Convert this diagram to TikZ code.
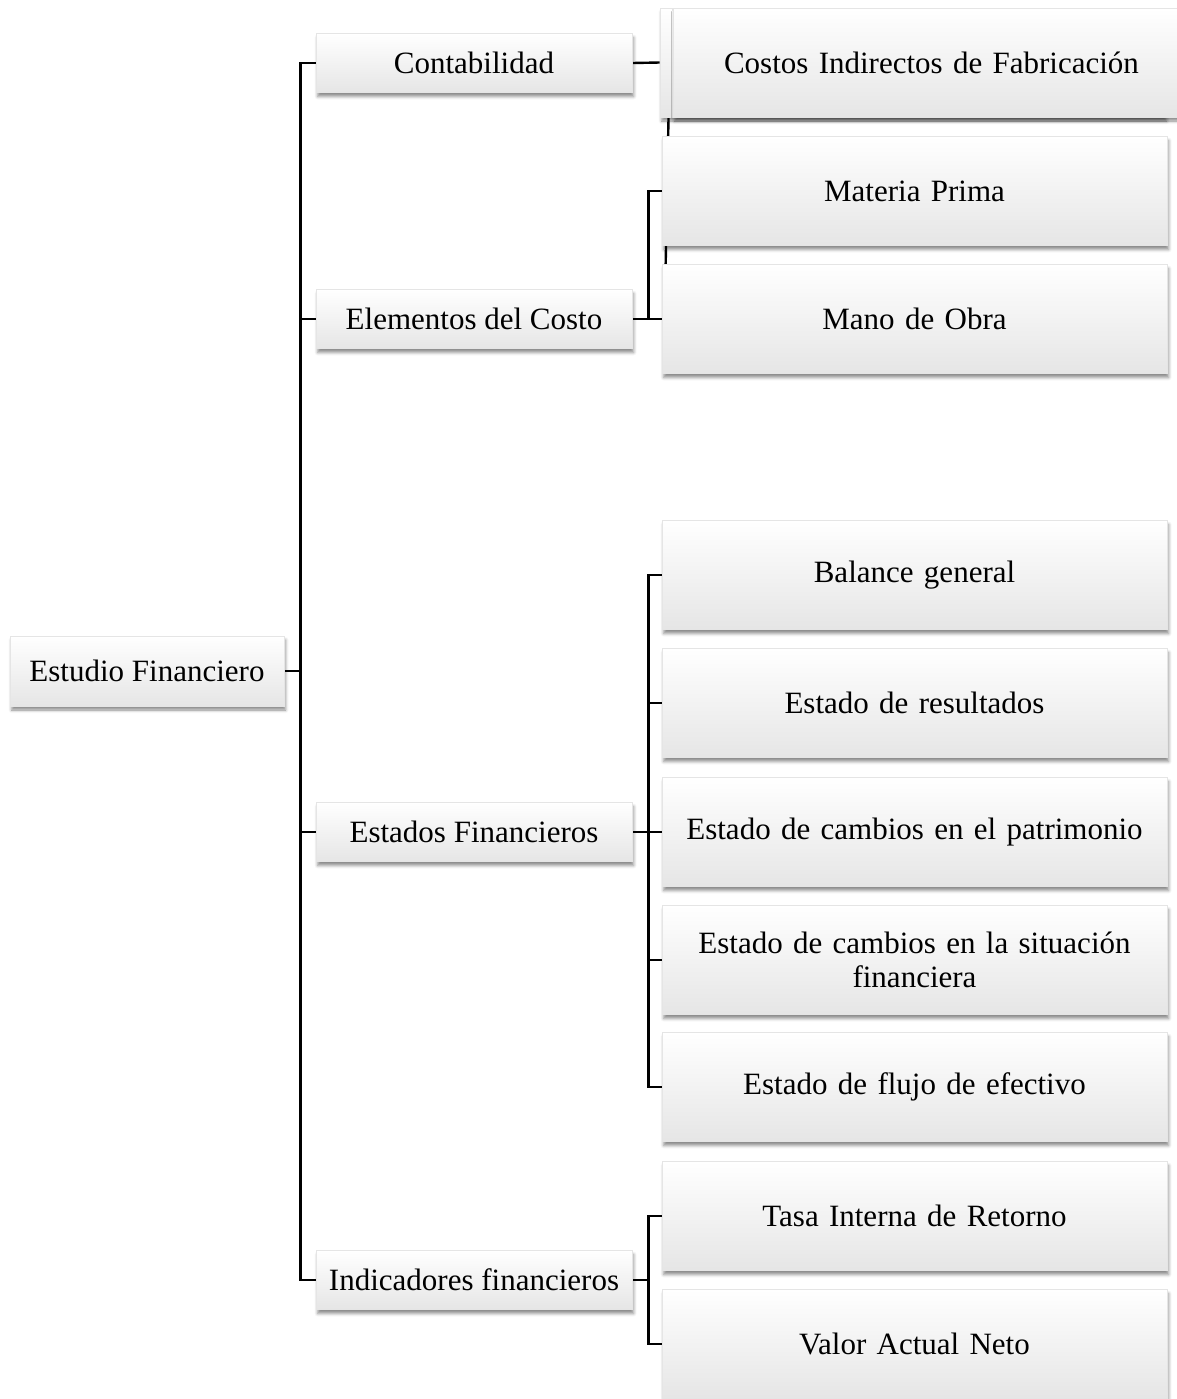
\documentclass[tikz,border=0pt]{standalone}
\usepackage{fontspec}
\setmainfont{Liberation Serif}
\usetikzlibrary{shadows.blur,backgrounds}

\begin{document}
\begin{tikzpicture}[x=0.5pt,y=-0.5pt,
    caja/.style={draw=gray!20, top color=white, bottom color=gray!20,
      blur shadow={shadow xshift=0.8pt, shadow yshift=-2pt, shadow opacity=45, shadow blur steps=4, shadow blur radius=1.5pt},
      inner sep=0pt, align=center, font=\fontsize{15.5}{17}\selectfont},
    raiz/.style={caja, minimum width=137pt, minimum height=35pt},
    rama/.style={caja, minimum width=158pt, minimum height=29.5pt},
    hoja/.style={caja, minimum width=252.5pt, minimum height=54.5pt, text width=245pt},
    linea/.style={line width=1.2pt}]
    \useasboundingbox (0,0) rectangle (1177,1399);

    % raiz y ramas
    \node[raiz] (ef) at (147,671) {Estudio Financiero};
    \node[rama] (cont) at (474,63) {Contabilidad};
    \node[rama] (elem) at (474,319) {Elementos del Costo};
    \node[rama] (estf) at (474,832) {Estados Financieros};
    \node[rama] (ind) at (474,1280) {Indicadores financieros};

    % hojas
    \node[hoja] (cifatras) at (912.5,62.5) {};
    \node[hoja, minimum width=258.5pt] (cif) at (931.5,62.5) {Costos Indirectos de Fabricación};
    \node[hoja] (mp) at (914.5,191) {Materia Prima};
    \node[hoja] (mo) at (914.5,319) {Mano de Obra};
    \node[hoja] (bal) at (914.5,575) {Balance general};
    \node[hoja] (res) at (914.5,703) {Estado de resultados};
    \node[hoja] (pat) at (914.5,832) {Estado de cambios en el patrimonio};
    \node[hoja] (sit) at (914.5,960) {Estado de cambios en la situación\\financiera};
    \node[hoja] (flu) at (914.5,1087) {Estado de flujo de efectivo};
    \node[hoja] (tir) at (914.5,1216) {Tasa Interna de Retorno};
    \node[hoja] (van) at (914.5,1344) {Valor Actual Neto};

    \begin{scope}[on background layer]
        \foreach \n in {cont,elem,estf,ind}
            \draw[linea] (ef.east) -- ++(16,0) |- (\n.west);
        \draw[linea] (cont.east) -- (cifatras.west);
        \draw[linea] ([xshift=5pt]cifatras.west) -- ([xshift=1.5pt]mo.west);
        \foreach \n in {mp,mo}
            \draw[linea] (elem.east) -- ++(16,0) |- (\n.west);
        \foreach \n in {bal,res,pat,sit,flu}
            \draw[linea] (estf.east) -- ++(16,0) |- (\n.west);
        \foreach \n in {tir,van}
            \draw[linea] (ind.east) -- ++(16,0) |- (\n.west);
    \end{scope}
\end{tikzpicture}
\end{document}
